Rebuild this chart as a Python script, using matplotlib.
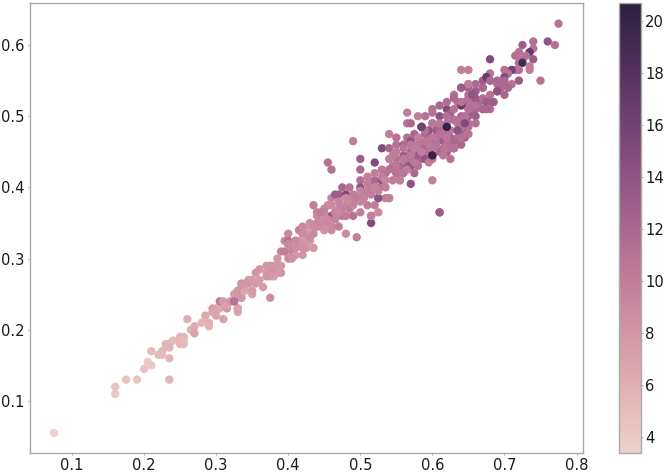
import matplotlib
matplotlib.use('Agg')
import matplotlib.pyplot as plt
import numpy as np
import seaborn as sns

# values, grouped along the cloud from low to high
x_low = [.075,.16,.16,.175,.19,.235,.2,.205,.21,.21,.22,.225,.225,.235,.23,.235,.235,.24,.25,.255,.25,.255,.25,.255]
y_low = [.055,.11,.12,.13,.13,.13,.145,.155,.15,.17,.165,.17,.165,.16,.18,.18,.175,.185,.19,.19,.18,.18,.185,.185]
c_low = [3.5,4.2,4.5,4.5,4.5,5.5,4.5,4,4.2,5,5.2,5.5,5,5.5,5.5,5.8,5.5,5,5.5,5.5,5.5,5,5.5,5]

x_b = [.26,.265,.27,.27,.28,.285,.29,.29,.295,.295,.3,.3,.305,.305,.31,.31,.315,.315,.32,.325,.33,.33,.325,.33,.335,.335,.335,.34,.345,.35,.33,.335,.345,.35,.325]
y_b = [.215,.2,.205,.195,.21,.22,.21,.205,.23,.225,.23,.22,.23,.24,.215,.24,.23,.235,.24,.24,.23,.225,.25,.255,.245,.265,.26,.255,.27,.25,.23,.245,.265,.255,.24]
c_b = [6,6,6.5,7,5.5,6.5,6,5.5,7.5,7,7,7,6.5,10,7,7.5,8,7,8,10.5,7,7,7.5,8,9.5,8.5,8,7,7.5,7,7,8,8,7.5,11]

x_c = [.355,.36,.365,.37,.375,.38,.385,.39,.37,.375,.38,.385,.39,.375,.38,.375,.385,.39,.395,.4,.4,.415,.405,.41,.42,.4,.405,.395,.4,.41]
y_c = [.28,.27,.26,.29,.29,.29,.29,.29,.28,.28,.28,.28,.28,.275,.275,.245,.3,.31,.325,.335,.325,.34,.31,.305,.305,.3,.3,.31,.32,.315]
c_c = [8,7.5,7.5,8,8,8,8,8,8,8,8.5,8,8,7.5,7.5,8.5,8,9.5,9,9,11,10,9.5,8,8,9,8.5,10,10.5,10]

x_d = [.425,.43,.435,.44,.44,.435,.43,.435,.425,.425,.415,.42,.41,.42,.45,.455,.46,.46,.465,.47,.48,.475,.485,.48,.495,.445,.45,.455,.46,.465,.47,.475,.48,.485,.49,.45,.46,.47,.48,.49]
y_d = [.34,.35,.375,.365,.345,.335,.325,.315,.315,.325,.325,.32,.325,.315,.365,.375,.36,.385,.39,.39,.39,.4,.4,.335,.33,.345,.355,.35,.34,.365,.37,.36,.375,.37,.38,.34,.345,.345,.36,.36]
c_d = [8,8.5,10,10,10,9,8,8,8,8,8,8,8,8.5,9,9,14,9.5,13,13,15,12,11,9,10,9,9,9.5,9,9.5,9,10.5,9.5,10,10.5,8.5,9,10,10,11]

x_e = [.455,.46,.49,.5,.5,.5,.51,.515,.515,.525,.525,.535,.54,.5,.5,.51,.52,.505,.51,.515,.52,.525,.53,.535,.54,.545,.53,.53,.52,.54,.55,.54,.55,.55,.565,.565,.525,.54,.515]
y_e = [.435,.425,.465,.44,.425,.41,.415,.35,.36,.365,.385,.385,.385,.4,.365,.375,.375,.39,.395,.405,.41,.4,.41,.42,.425,.43,.455,.41,.435,.455,.42,.475,.47,.46,.505,.49,.385,.385,.36]
c_e = [11,11,10,13,12,11,10,15,10,9,14,10,10,14,10,10,10,11,11,11.5,12,11,14,11,11,11,15,14,15,12,11,10,11,11,10,11,14,10,10]

x_f = [.55,.555,.56,.565,.57,.575,.58,.585,.59,.595,.55,.555,.56,.565,.57,.575,.58,.585,.59,.595,.6,.56,.565,.57,.575,.58,.585,.59,.595,.6,.605,.57,.58,.59,.6,.61,.62,.61,.6,.57,.585,.58,.59,.6,.61]
y_f = [.44,.43,.445,.44,.45,.44,.455,.46,.45,.47,.42,.41,.42,.43,.43,.42,.43,.44,.44,.45,.46,.46,.47,.465,.475,.47,.485,.475,.48,.49,.48,.49,.5,.5,.51,.5,.51,.485,.41,.405,.485,.445,.46,.445,.365]
c_f = [11,12,13,11,12,14,11,13,12,11,11,12,11,13,14,12,11,12,14,11,13,12,11,14,12,13,16,12,14,11,13,12,10,11,11,14,15,12,10,14,16,13,12,20,13]

x_g = [.605,.61,.615,.62,.625,.63,.635,.64,.645,.65,.61,.615,.62,.625,.63,.635,.64,.645,.65,.655,.66,.62,.63,.64,.65,.66,.67,.625,.635,.645,.655,.665,.675,.63,.64,.65,.66,.67,.68,.64,.65,.66,.67,.68,.69]
y_g = [.46,.47,.465,.46,.47,.465,.47,.48,.485,.49,.45,.455,.45,.44,.455,.48,.46,.47,.5,.505,.51,.49,.495,.5,.51,.5,.51,.505,.52,.52,.525,.52,.51,.53,.515,.53,.525,.54,.53,.54,.545,.535,.54,.55,.535]
c_g = [11,12,13,11,12,14,11,12,13,11,12,11,13,11,12,14,12,13,12,13,12,11,12,12,12,13,11,13,11,12,14,12,11,11,17,11,13,12,11,13,11,13,12,11,14]

# lighter points that fill the dense middle of the band
x_up = [.44,.45,.46,.47,.48,.49,.5,.51,.52,.53,.54,.55,.56,.57,.58,.59,.6,.61,.62,.63,.64,.65]
y_up = [.36,.37,.375,.38,.385,.39,.395,.405,.42,.425,.44,.45,.455,.46,.47,.48,.49,.49,.5,.51,.52,.525]
c_up = [9,9.5,9,9.5,9,10,9.5,10,10,10.5,10,10,10.5,10.5,10,11,10.5,10.5,11,11,11,11]

x_lo = [.445,.455,.465,.475,.485,.495,.505,.515,.525,.535,.545,.555,.565,.575,.585,.595,.605,.615,.625,.635,.645,.655]
y_lo = [.35,.355,.355,.37,.38,.385,.385,.39,.395,.4,.41,.42,.425,.435,.45,.46,.47,.475,.48,.49,.5,.515]
c_lo = [9,9,9.5,9.5,9,10,9.5,10,9.5,10,10,10.5,10,10.5,10,10.5,10.5,11,10.5,11,11,11]

x_mid = [.47,.49,.51,.53,.55,.57,.59,.61,.63,.65,.67,.68,.69,.7]
y_mid = [.365,.375,.395,.415,.43,.445,.465,.475,.495,.51,.525,.52,.545,.545]
c_mid = [9,9.5,10,10,10.5,10.5,10.5,11,11,11,11.5,11,11.5,11]

x_mix = [.56,.58,.6,.62,.64,.66,.6,.62,.64,.575,.595,.615,.555,.535,.545,.52,.5]
y_mix = [.44,.46,.47,.48,.495,.515,.455,.47,.485,.455,.435,.445,.41,.41,.445,.4,.38]
c_mix = [10.5,10.5,10.5,11,11,11,10.5,10.5,11,10,10,10.5,10,9.5,10,9.5,9.5]

x_fill = [.36,.35,.34,.355,.37,.4,.41,.42,.43,.44,.445,.435,.42,.41]
y_fill = [.285,.27,.265,.265,.275,.32,.325,.335,.33,.35,.365,.345,.345,.315]
c_fill = [8,7.5,8,7.5,8,9,9,9,9,9,10,9,9,8.5]

x_edge = [.6,.61,.62,.63,.65,.66,.67,.6,.62,.64,.66,.68]
y_edge = [.505,.515,.52,.525,.54,.545,.55,.44,.455,.47,.49,.51]
c_edge = [11,12,11.5,12,12.5,12,13,11,10.5,11,11,11.5]

x_h = [.775,.76,.77,.74,.725,.74,.72,.715,.735,.73,.74,.725,.72,.725,.735,.735,.68,.64,.65,.7,.72,.715,.71,.68,.675,.705,.7,.72,.75,.65,.64,.68,.69,.70,.71,.705,.695,.69,.7,.675,.655,.685,.67,.675,.65,.65,.645,.635,.63,.63,.625,.62,.585,.6,.61]
y_h = [.63,.605,.6,.605,.6,.595,.59,.585,.59,.585,.58,.58,.575,.575,.57,.565,.58,.565,.565,.565,.565,.565,.565,.56,.555,.56,.555,.55,.55,.545,.54,.55,.55,.55,.545,.54,.54,.535,.53,.52,.53,.52,.51,.51,.475,.485,.49,.48,.465,.455,.455,.485,.485,.445,.365]
c_h = [11,14,11,11,13,11,11,11,17,11,13,11,11,19,10,10,15,10,10,11,11,11,16,11,17,11,15,13,11,10,13,12,12,12,11,12,12,14,12,13,14,13,12,12,11,11,15,14,12,11,11,20,16,20,13]

x = np.concatenate([x_low, x_b, x_c, x_d, x_e, x_f, x_g, x_up, x_lo, x_mid, x_mix, x_fill, x_edge, x_h])
y = np.concatenate([y_low, y_b, y_c, y_d, y_e, y_f, y_g, y_up, y_lo, y_mid, y_mix, y_fill, y_edge, y_h])
c = np.concatenate([c_low, c_b, c_c, c_d, c_e, c_f, c_g, c_up, c_lo, c_mid, c_mix, c_fill, c_edge, c_h])

fig = plt.figure(figsize=(6.65, 4.73), dpi=100)
ax = fig.add_axes([29.5/665, 1 - 453/473, 553.5/665, 450/473])
cax = fig.add_axes([618.5/665, 1 - 453/473, 22/665, 450/473])

cmap = sns.cubehelix_palette(as_cmap=True)
pts = ax.scatter(x, y, c=c, cmap=cmap, vmin=3.37, vmax=20.7, s=36, linewidths=0)
cb = fig.colorbar(pts, cax=cax)

ax.set_xlim(0.041, 0.809)
ax.set_ylim(0.027, 0.659)
ax.set_xticks([0.1, 0.2, 0.3, 0.4, 0.5, 0.6, 0.7, 0.8])
ax.set_yticks([0.1, 0.2, 0.3, 0.4, 0.5, 0.6])
cb.set_ticks([4, 6, 8, 10, 12, 14, 16, 18, 20])

for a in (ax, cax):
    a.tick_params(labelsize=10.6, length=1.5, width=0.6, color='#999999', labelcolor='#1a1a1a', pad=2)
    for s in a.spines.values():
        s.set_color('#aaaaaa')
        s.set_linewidth(1)
cb.outline.set_edgecolor('#aaaaaa')

fig.savefig('out.png', dpi=100)
